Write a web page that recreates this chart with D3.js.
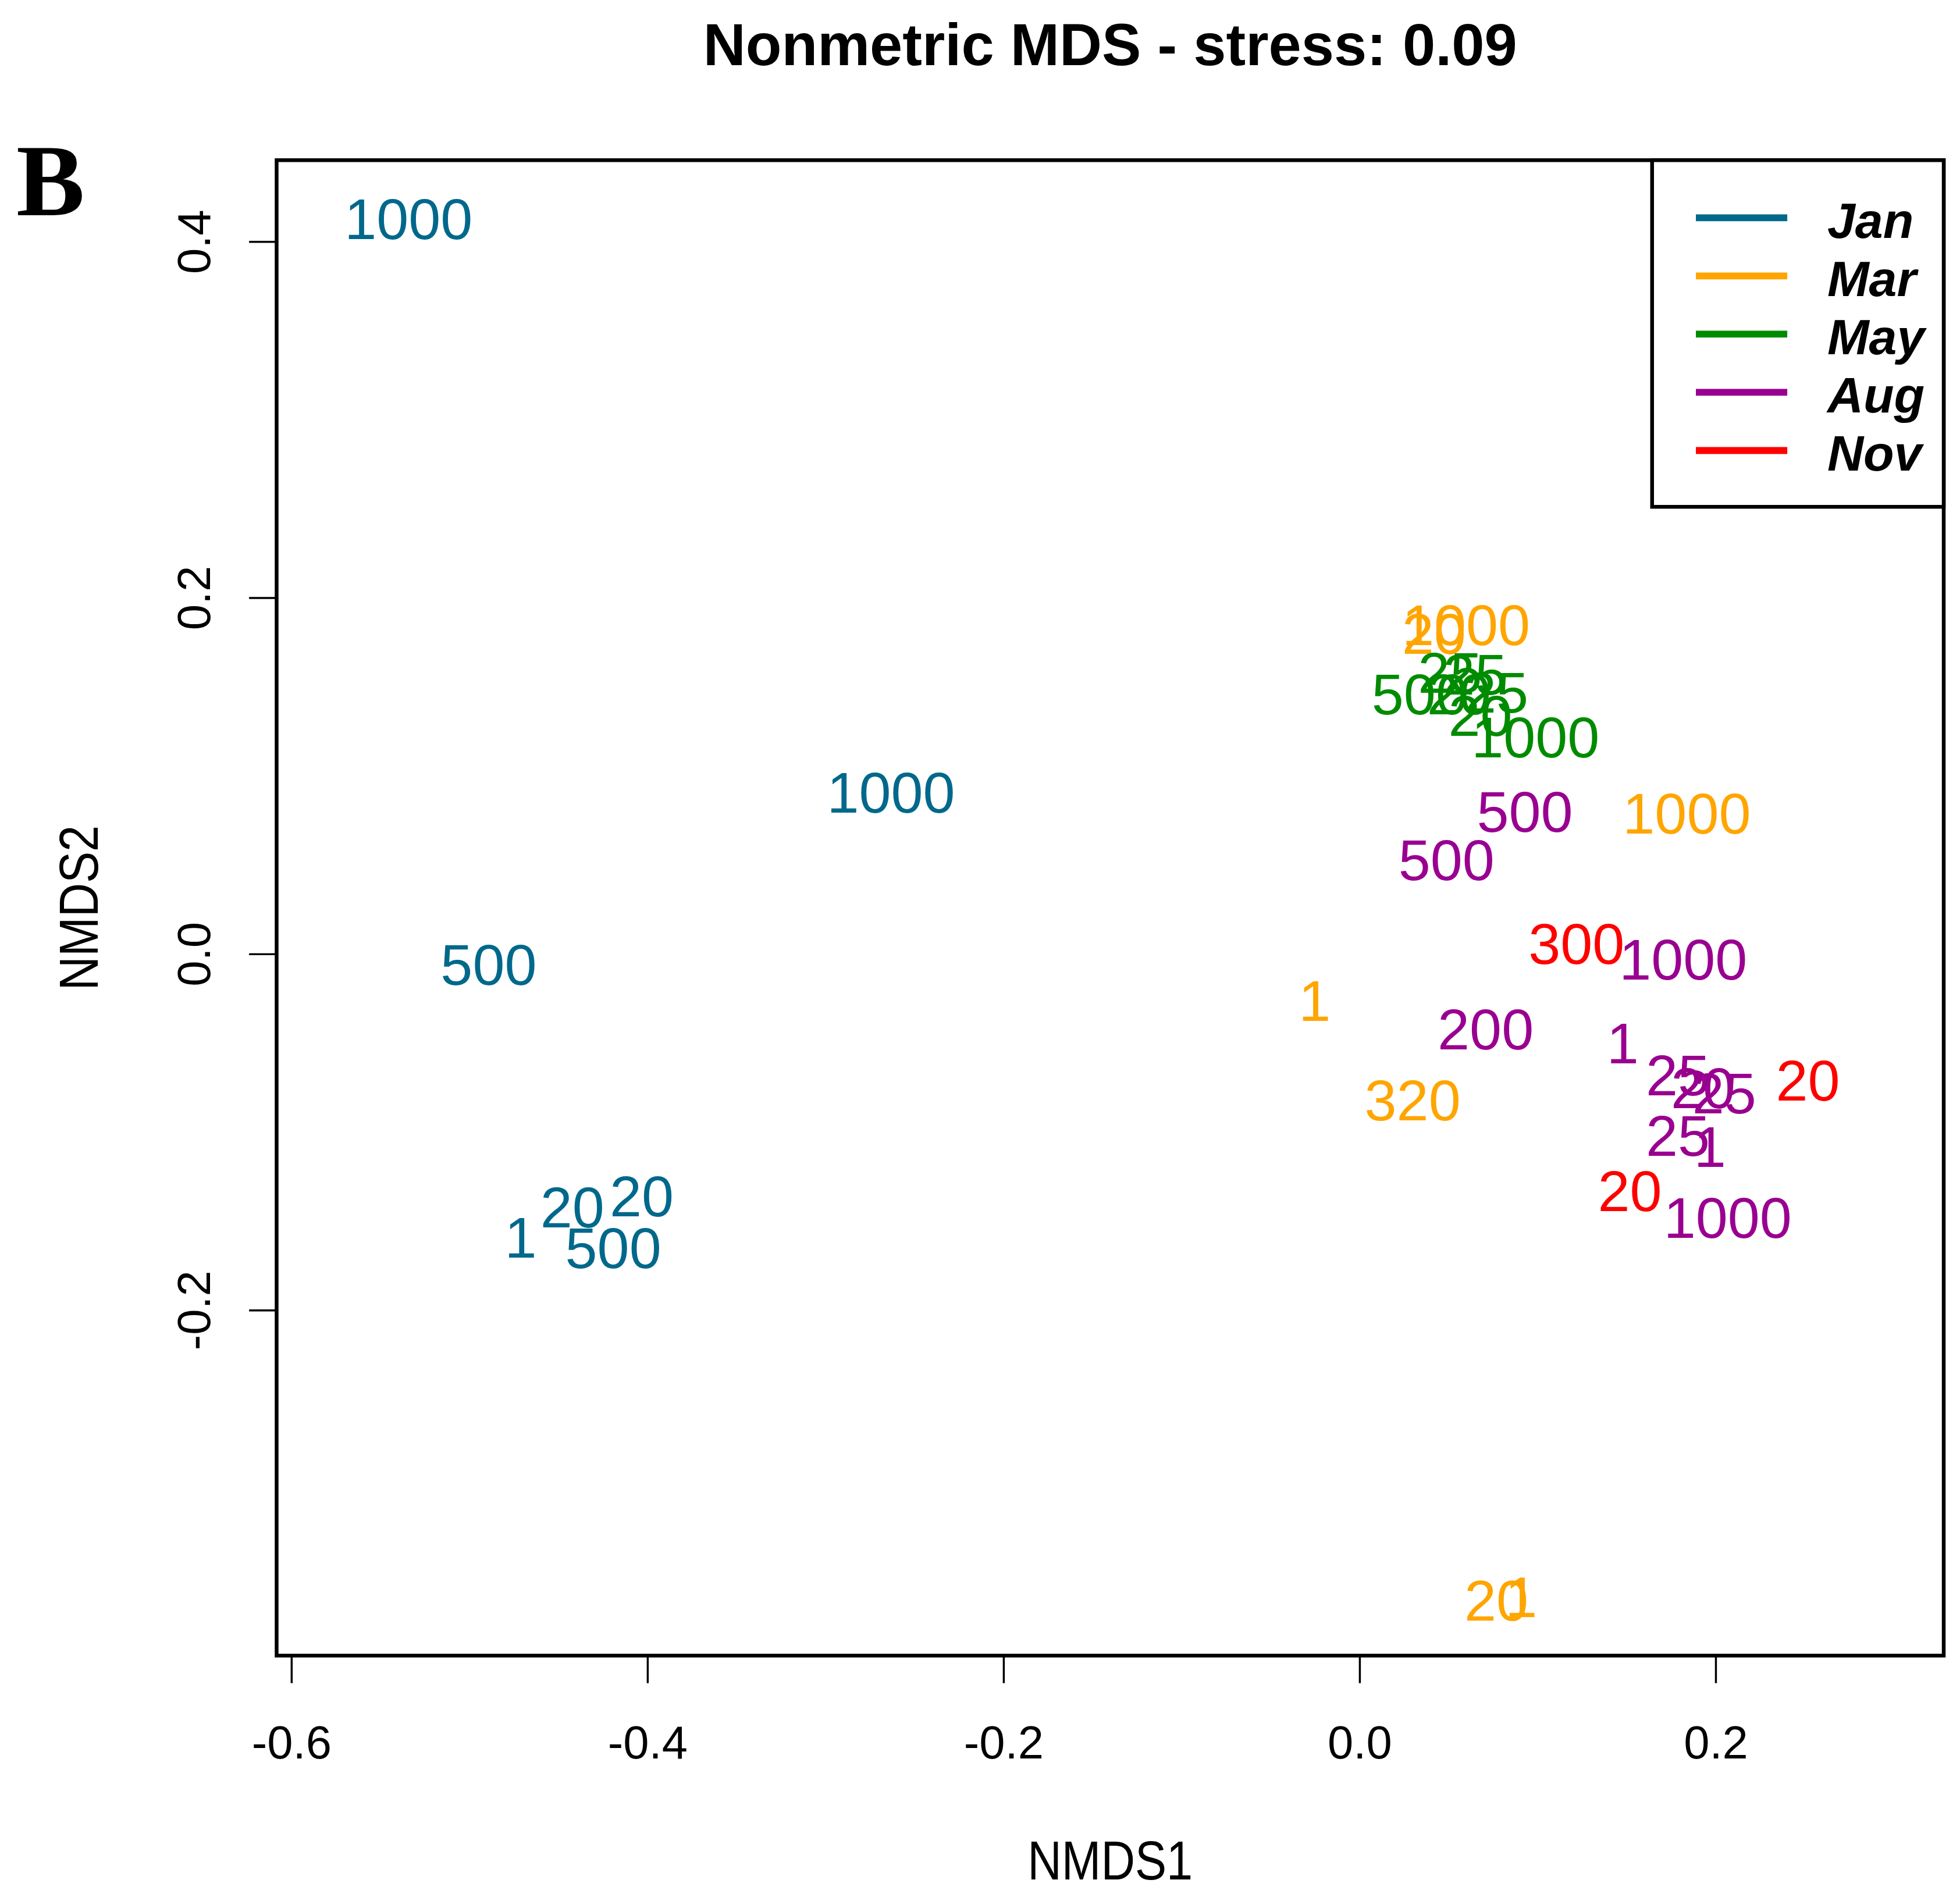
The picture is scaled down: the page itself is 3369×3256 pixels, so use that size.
<!DOCTYPE html>
<html>
<head>
<meta charset="utf-8">
<script src="https://cdn.jsdelivr.net/npm/d3@7"></script>
<style>
  html, body { margin: 0; padding: 0; background: #fff; }
  svg { display: block; }
  text { font-family: "Liberation Sans", Arial, sans-serif; }
</style>
</head>
<body>
<div id="chart"></div>
<script>
// Months (legend order) and their colours
const months = ['Jan', 'Mar', 'May', 'Aug', 'Nov'];
const monthColors = ['#00688B', '#FFA500', '#008B00', '#990090', '#FF0000'];

// Site labels and NMDS scores
const janSites = ['1000', '1000', '500', '1', '20', '20', '500'];
const janNMDS1 = [-0.534, -0.263, -0.489, -0.471, -0.442, -0.403, -0.419];
const janNMDS2 = [0.411, 0.089, -0.008, -0.161, -0.144, -0.138, -0.167];

const marSites = ['20', '1000', '1000', '1', '320', '20', '1'];
const marNMDS1 = [0.042, 0.060, 0.184, -0.025, 0.030, 0.077, 0.091];
const marNMDS2 = [0.178, 0.183, 0.077, -0.028, -0.084, -0.365, -0.363];

const maySites = ['500', '25', '25', '20', '25', '20', '1000'];
const mayNMDS1 = [0.034, 0.051, 0.065, 0.056, 0.077, 0.068, 0.099];
const mayNMDS2 = [0.144, 0.156, 0.155, 0.144, 0.145, 0.132, 0.120];

const augSites = ['500', '500', '1000', '200', '1', '25', '20', '25', '25', '1', '1000'];
const augNMDS1 = [0.093, 0.049, 0.182, 0.071, 0.148, 0.179, 0.193, 0.205, 0.179, 0.197, 0.207];
const augNMDS2 = [0.078, 0.051, -0.005, -0.044, -0.052, -0.070, -0.077, -0.080, -0.104, -0.110, -0.150];

const novSites = ['300', '20', '20'];
const novNMDS1 = [0.122, 0.252, 0.152];
const novNMDS2 = [0.004, -0.073, -0.135];

const xTicks = [-0.6, -0.4, -0.2, 0.0, 0.2];
const yTicks = [-0.2, 0.0, 0.2, 0.4];

const groups = [
  { month: 'Jan', sites: janSites, x: janNMDS1, y: janNMDS2 },
  { month: 'Mar', sites: marSites, x: marNMDS1, y: marNMDS2 },
  { month: 'May', sites: maySites, x: mayNMDS1, y: mayNMDS2 },
  { month: 'Aug', sites: augSites, x: augNMDS1, y: augNMDS2 },
  { month: 'Nov', sites: novSites, x: novNMDS1, y: novNMDS2 },
];
const points = groups.flatMap(g => g.sites.map((s, i) => ({ month: g.month, site: s, x: g.x[i], y: g.y[i] })));

const color = d3.scaleOrdinal().domain(months).range(monthColors);

// drawing units (the svg is scaled up to the full window)
const VW = 1566, VH = 1513.5;
const plot = { left: 221, top: 128, right: 1553, bottom: 1323 };

const x = d3.scaleLinear().domain([-0.6081, 0.3283]).range([plot.left, plot.right]);
const y = d3.scaleLinear().domain([-0.3942, 0.4455]).range([plot.bottom, plot.top]);

const svg = d3.select('#chart').append('svg')
  .attr('width', 3369).attr('height', 3256)
  .attr('viewBox', `0 0 ${VW} ${VH}`);

// Title and panel letter
svg.append('text')
  .attr('x', (plot.left + plot.right) / 2).attr('y', 52)
  .attr('text-anchor', 'middle')
  .attr('font-size', 47).attr('font-weight', 'bold')
  .text('Nonmetric MDS - stress: 0.09');

svg.append('text')
  .attr('x', 13).attr('y', 172)
  .style('font-family', '"Liberation Serif", "Times New Roman", serif')
  .attr('font-size', 82).attr('font-weight', 'bold')
  .text('B');

// X axis
svg.append('g')
  .attr('transform', `translate(0,${plot.bottom})`)
  .call(d3.axisBottom(x).tickValues(xTicks).tickSize(22).tickPadding(34)
    .tickFormat(d => d.toFixed(1)))
  .call(a => a.select('.domain').remove())
  .call(a => a.selectAll('.tick line').attr('stroke', '#000').attr('stroke-width', 1.6))
  .call(a => a.selectAll('.tick text').attr('font-size', 37).attr('fill', '#000')
    .style('font-family', '"Liberation Sans", Arial, sans-serif'));

// Y axis (labels rotated, as in base R)
svg.append('g')
  .attr('transform', `translate(${plot.left},0)`)
  .call(d3.axisLeft(y).tickValues(yTicks).tickSize(22)
    .tickFormat(d => d.toFixed(1)))
  .call(a => a.select('.domain').remove())
  .call(a => a.selectAll('.tick line').attr('stroke', '#000').attr('stroke-width', 1.6))
  .call(a => a.selectAll('.tick text')
    .attr('transform', 'rotate(-90)')
    .attr('x', 0).attr('y', -53).attr('dy', 0)
    .attr('text-anchor', 'middle')
    .attr('font-size', 37).attr('fill', '#000')
    .style('font-family', '"Liberation Sans", Arial, sans-serif'));

// Axis titles
svg.append('text')
  .attr('x', (plot.left + plot.right) / 2).attr('y', 1502)
  .attr('text-anchor', 'middle').attr('font-size', 44)
  .attr('textLength', 132).attr('lengthAdjust', 'spacingAndGlyphs')
  .text('NMDS1');

svg.append('text')
  .attr('transform', `translate(78,${(plot.top + plot.bottom) / 2}) rotate(-90)`)
  .attr('text-anchor', 'middle').attr('font-size', 44)
  .attr('textLength', 132).attr('lengthAdjust', 'spacingAndGlyphs')
  .text('NMDS2');

// Site labels
svg.append('g')
  .selectAll('text')
  .data(points)
  .join('text')
  .attr('x', d => x(d.x))
  .attr('y', d => y(d.y))
  .attr('dy', '0.3em')
  .attr('text-anchor', 'middle')
  .attr('font-size', 46)
  .attr('fill', d => color(d.month))
  .text(d => d.site);

// Plot box
svg.append('rect')
  .attr('x', plot.left).attr('y', plot.top)
  .attr('width', plot.right - plot.left).attr('height', plot.bottom - plot.top)
  .attr('fill', 'none').attr('stroke', '#000').attr('stroke-width', 3);

// Legend
const legend = { left: 1320, top: plot.top, right: plot.right, bottom: 405 };
const legendY = d3.scalePoint().domain(months).range([174, 360]);

const lg = svg.append('g');
lg.append('rect')
  .attr('x', legend.left).attr('y', legend.top)
  .attr('width', legend.right - legend.left).attr('height', legend.bottom - legend.top)
  .attr('fill', '#fff').attr('stroke', '#000').attr('stroke-width', 3);

const item = lg.selectAll('.legend-item')
  .data(months)
  .join('g')
  .attr('class', 'legend-item')
  .attr('transform', m => `translate(0,${legendY(m)})`);

item.append('line')
  .attr('x1', 1355).attr('x2', 1428)
  .attr('stroke', m => color(m)).attr('stroke-width', 5.5);

item.append('text')
  .attr('x', 1460).attr('y', 16)
  .attr('font-size', 40).attr('font-weight', 'bold').attr('font-style', 'italic')
  .text(m => m);
</script>
</body>
</html>
